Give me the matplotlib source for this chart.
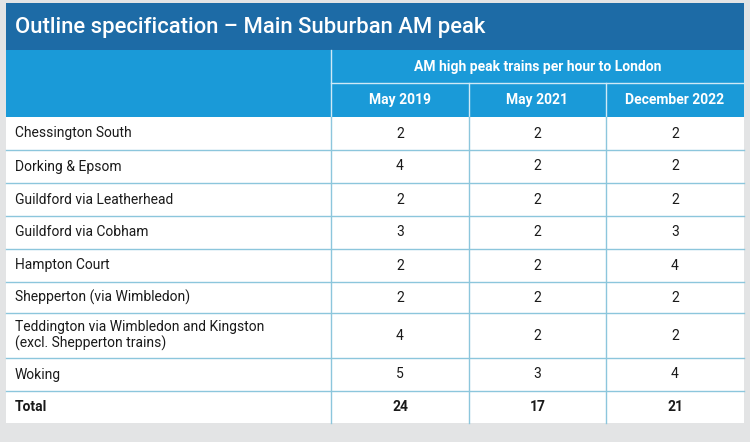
import matplotlib.pyplot as plt
from matplotlib.patches import Rectangle

plt.rcParams['font.family'] = ['Roboto', 'DejaVu Sans']

TITRE = "Outline specification \u2013 Main Suburban AM peak"
SOUS_TITRE = "AM high peak trains per hour to London"
COLONNES = ["May 2019", "May 2021", "December 2022"]
LIGNES = [
    "Chessington South",
    "Dorking & Epsom",
    "Guildford via Leatherhead",
    "Guildford via Cobham",
    "Hampton Court",
    "Shepperton (via Wimbledon)",
    "Teddington via Wimbledon and Kingston\n(excl. Shepperton trains)",
    "Woking",
]
MAI_2019 = [2, 4, 2, 3, 2, 2, 4, 5]
MAI_2021 = [2, 2, 2, 2, 2, 2, 2, 3]
DEC_2022 = [2, 2, 2, 3, 4, 2, 2, 4]
TOTAUX = [24, 17, 21]

BLEU_FONCE = "#1d6ba6"
BLEU_CLAIR = "#1a9ad8"
TRAIT = "#8cc6dc"
FOND = "#e3e4e5"
TEXTE = "#1a1a1a"

# geometrie en pixels
W, H = 750, 442
X0, X1 = 6, 744
XCOL = [331, 469, 606, 744]
Y_TITRE = (3, 50)
Y_ENTETE1 = (50, 83)
Y_ENTETE2 = (83, 117)
HAUTEURS = [33, 33, 33, 33, 33, 31, 45, 33, 32]

fig = plt.figure(figsize=(W / 100, H / 100), dpi=100)
fig.patch.set_facecolor(FOND)
ax = fig.add_axes([0, 0, 1, 1])
ax.set_xlim(0, W)
ax.set_ylim(H, 0)
ax.axis("off")

# bandeau titre
ax.add_patch(Rectangle((X0, Y_TITRE[0]), X1 - X0, Y_TITRE[1] - Y_TITRE[0], color=BLEU_FONCE, lw=0))
ax.text(15, (Y_TITRE[0] + Y_TITRE[1]) / 2 + 1, TITRE, color="white", fontsize=15.8,
        fontweight="medium", ha="left", va="center")

# entetes
ax.add_patch(Rectangle((X0, Y_ENTETE1[0]), X1 - X0, Y_ENTETE2[1] - Y_ENTETE1[0], color=BLEU_CLAIR, lw=0))
ax.plot([XCOL[0], X1], [Y_ENTETE1[1], Y_ENTETE1[1]], color="#cfe9f6", lw=1)
ax.plot([XCOL[0], XCOL[0]], [Y_ENTETE1[0], Y_ENTETE2[1]], color="#cfe9f6", lw=1)
for x in XCOL[1:3]:
    ax.plot([x, x], [Y_ENTETE2[0], Y_ENTETE2[1]], color="#cfe9f6", lw=1)
ax.text((XCOL[0] + X1) / 2, (Y_ENTETE1[0] + Y_ENTETE1[1]) / 2, SOUS_TITRE, color="white",
        fontsize=10, fontweight="bold", ha="center", va="center")
for i, nom in enumerate(COLONNES):
    ax.text((XCOL[i] + XCOL[i + 1]) / 2, (Y_ENTETE2[0] + Y_ENTETE2[1]) / 2, nom, color="white",
            fontsize=10, fontweight="bold", ha="center", va="center")

# corps du tableau
y_bas = Y_ENTETE2[1] + sum(HAUTEURS)
ax.add_patch(Rectangle((X0, Y_ENTETE2[1]), X1 - X0, sum(HAUTEURS), color="white", lw=0))

valeurs = list(zip(MAI_2019, MAI_2021, DEC_2022))
y = Y_ENTETE2[1]
for k, h in enumerate(HAUTEURS):
    yc = y + h / 2
    if k < len(LIGNES):
        ax.text(15, yc, LIGNES[k], color=TEXTE, fontsize=10, ha="left", va="center",
                linespacing=1.2)
        cellules = valeurs[k]
        poids = "normal"
    else:
        ax.text(15, yc, "Total", color=TEXTE, fontsize=10, fontweight="bold",
                ha="left", va="center")
        cellules = TOTAUX
        poids = "bold"
    for i, v in enumerate(cellules):
        ax.text((XCOL[i] + XCOL[i + 1]) / 2, yc, str(v), color=TEXTE, fontsize=10,
                fontweight=poids, ha="center", va="center")
    y += h
    if k < len(HAUTEURS) - 1:
        ax.plot([X0, X1], [y, y], color=TRAIT, lw=1)

for x in XCOL[:3]:
    ax.plot([x, x], [Y_ENTETE2[1], y_bas], color=TRAIT, lw=1)

fig.savefig("out.png", dpi=100, facecolor=FOND)
